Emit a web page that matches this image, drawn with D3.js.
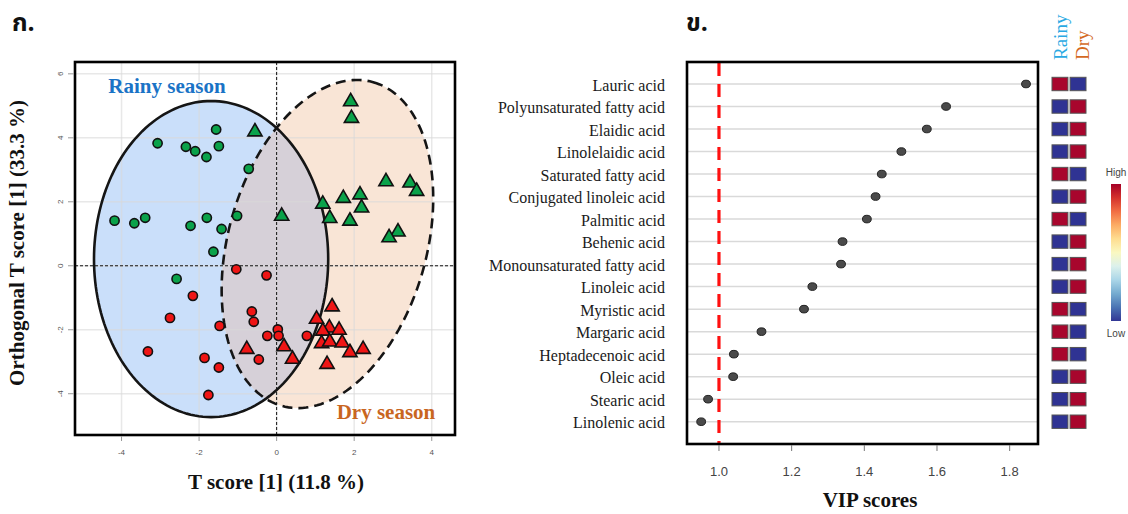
<!DOCTYPE html>
<html><head><meta charset="utf-8">
<script src="https://cdn.jsdelivr.net/npm/d3@7"></script>
<style>body{margin:0;background:#fff}svg{display:block}</style>
</head><body><svg id="c" width="1128" height="514"></svg>
<script>
// ---------- DATA: panel ก. (OPLS-DA score plot) ----------
const xTicksL = [-4, -2, 0, 2, 4];
const yTicksL = [-4, -2, 0, 2, 4, 6];
// circles = rainy-season samples, triangles = dry-season samples; colour = class
const greenCircles = [[-1.56,4.26],[-3.07,3.83],[-2.34,3.72],[-2.10,3.58],[-1.49,3.74],[-1.81,3.40],[-0.72,3.03],[-4.18,1.41],[-3.67,1.33],[-3.39,1.50],[-2.22,1.25],[-1.80,1.50],[-1.02,1.56],[-1.42,1.15],[-1.63,0.44],[-2.58,-0.41]];
const redCircles = [[-1.04,-0.11],[-0.26,-0.30],[-2.16,-0.94],[-2.75,-1.63],[-0.64,-1.43],[-0.59,-1.75],[-1.47,-1.88],[0.03,-1.99],[0.05,-2.19],[-0.24,-2.19],[0.78,-2.19],[-3.32,-2.68],[-1.86,-2.88],[-1.49,-3.18],[-0.46,-2.93],[-1.76,-4.04]];
const greenTriangles = [[1.91,5.13],[1.93,4.61],[-0.56,4.19],[2.82,2.63],[3.44,2.59],[3.61,2.33],[1.72,2.11],[2.15,2.22],[1.19,1.93],[2.19,1.81],[1.37,1.48],[1.89,1.40],[0.13,1.55],[3.13,1.06],[2.90,0.88]];
const redTriangles = [[1.43,-1.28],[1.03,-1.67],[1.36,-1.94],[1.61,-2.01],[1.19,-2.04],[1.16,-2.43],[1.37,-2.38],[1.69,-2.41],[1.89,-2.71],[2.23,-2.61],[-0.77,-2.61],[0.19,-2.53],[0.41,-2.92],[1.30,-3.08]];
// confidence ellipses: centre and two conjugate semi-diameters (data units)
const rainyEllipse = {c:[-1.69,0.21], u:[0,4.94], v:[3.02,0]};
const dryEllipse   = {c:[1.31,0.68], u:[1.18,5.06], v:[2.46,-0.84]};

// ---------- DATA: panel ข. (VIP scores) ----------
const acids = ["Lauric acid","Polyunsaturated fatty acid","Elaidic acid","Linolelaidic acid","Saturated fatty acid","Conjugated linoleic acid","Palmitic acid","Behenic acid","Monounsaturated fatty acid","Linoleic acid","Myristic acid","Margaric acid","Heptadecenoic acid","Oleic acid","Stearic acid","Linolenic acid"];
const vipScores = [1.845,1.625,1.572,1.502,1.448,1.431,1.407,1.340,1.336,1.257,1.234,1.117,1.041,1.039,0.970,0.951];
const seasons = ["Rainy","Dry"];
const rainyLevel = ["High","Low","Low","Low","High","Low","High","Low","Low","Low","High","High","High","Low","Low","Low"];
const xTicksR = [1.0,1.2,1.4,1.6,1.8];
const vipThreshold = 1.0;

// ---------- SETUP ----------
const svg = d3.select("#c");
svg.append("rect").attr("width",1128).attr("height",514).attr("fill","#fff");
const serif = "'Liberation Serif','Times New Roman',serif";
const sans = "'Liberation Sans',Arial,sans-serif";
const thai = "'Noto Sans Thai','Loma','Garuda','Tlwg Typo','Norasi',sans-serif";

// ---------- PANEL ก. ----------
const xL = d3.scaleLinear().domain([-5.2,4.6]).range([75,455]);
const yL = d3.scaleLinear().domain([-5.29,6.37]).range([435,62]);
const ellPts = e => d3.range(0,181).map(i => {const t=i/180*2*Math.PI;
  return [e.c[0]+e.u[0]*Math.cos(t)+e.v[0]*Math.sin(t), e.c[1]+e.u[1]*Math.cos(t)+e.v[1]*Math.sin(t)];});
const eLine = d3.line().x(d=>xL(d[0])).y(d=>yL(d[1])).curve(d3.curveLinearClosed);

svg.append("defs").append("clipPath").attr("id","clipRainy")
  .append("path").attr("d", eLine(ellPts(rainyEllipse)));

const gL = svg.append("g");
gL.append("path").attr("d", eLine(ellPts(rainyEllipse))).attr("fill","#cadffa");
gL.append("path").attr("d", eLine(ellPts(dryEllipse))).attr("fill","#f9e5d6");
gL.append("path").attr("d", eLine(ellPts(dryEllipse))).attr("fill","#d6d0d8").attr("clip-path","url(#clipRainy)");

// grid
gL.selectAll(".gx").data(xTicksL).join("line").attr("x1",d=>xL(d)).attr("x2",d=>xL(d))
  .attr("y1",yL.range()[0]).attr("y2",yL.range()[1]).attr("stroke","#d8d8d8").attr("stroke-opacity",0.6).attr("stroke-width",1.5);
gL.selectAll(".gy").data(yTicksL).join("line").attr("y1",d=>yL(d)).attr("y2",d=>yL(d))
  .attr("x1",xL.range()[0]).attr("x2",xL.range()[1]).attr("stroke","#d8d8d8").attr("stroke-opacity",0.6).attr("stroke-width",1.5);
// zero lines
gL.append("line").attr("x1",xL(0)).attr("x2",xL(0)).attr("y1",yL.range()[0]).attr("y2",yL.range()[1])
  .attr("stroke","#111").attr("stroke-width",1).attr("stroke-dasharray","3,2");
gL.append("line").attr("y1",yL(0)).attr("y2",yL(0)).attr("x1",xL.range()[0]).attr("x2",xL.range()[1])
  .attr("stroke","#111").attr("stroke-width",1).attr("stroke-dasharray","3,2");

// ellipse outlines
gL.append("path").attr("d", eLine(ellPts(rainyEllipse))).attr("fill","none").attr("stroke","#151515").attr("stroke-width",2.6);
gL.append("path").attr("d", eLine(ellPts(dryEllipse))).attr("fill","none").attr("stroke","#151515").attr("stroke-width",2.6).attr("stroke-dasharray","10,6");

// points
const tri = d3.symbol(d3.symbolTriangle, 88);
const drawCircles = (data, col) => gL.append("g").selectAll("circle").data(data).join("circle")
  .attr("cx",d=>xL(d[0])).attr("cy",d=>yL(d[1])).attr("r",4.6).attr("fill",col).attr("stroke","#111").attr("stroke-width",1.6);
const drawTris = (data, col) => gL.append("g").selectAll("path").data(data).join("path")
  .attr("d",tri).attr("transform",d=>`translate(${xL(d[0])},${yL(d[1])})`).attr("fill",col).attr("stroke","#111").attr("stroke-width",1.6);
drawCircles(greenCircles,"#0aa24a");
drawCircles(redCircles,"#ef1515");
drawTris(greenTriangles,"#0aa24a");
drawTris(redTriangles,"#ef1515");

// frame & axes
gL.append("rect").attr("x",xL.range()[0]).attr("y",yL.range()[1]).attr("width",xL.range()[1]-xL.range()[0])
  .attr("height",yL.range()[0]-yL.range()[1]).attr("fill","none").attr("stroke","#000").attr("stroke-width",2.6);
gL.selectAll(".tx").data(xTicksL).join("line").attr("x1",d=>xL(d)).attr("x2",d=>xL(d)).attr("y1",436).attr("y2",441).attr("stroke","#999");
gL.selectAll(".ty").data(yTicksL).join("line").attr("y1",d=>yL(d)).attr("y2",d=>yL(d)).attr("x1",68).attr("x2",74).attr("stroke","#999");
gL.selectAll(".lx").data(xTicksL).join("text").attr("x",d=>xL(d)).attr("y",455).attr("text-anchor","middle")
  .attr("font-family",sans).attr("font-size",8).attr("fill","#555").text(d=>d);
gL.selectAll(".ly").data(yTicksL).join("text").attr("transform",d=>`translate(63,${yL(d)}) rotate(-90)`).attr("text-anchor","middle")
  .attr("font-family",sans).attr("font-size",8).attr("fill","#555").text(d=>d);

gL.append("text").attr("x",167).attr("y",93).attr("text-anchor","middle").attr("font-family",serif).attr("font-weight","bold")
  .attr("font-size",21).attr("fill","#1a73c6").text("Rainy season");
gL.append("text").attr("x",386).attr("y",419).attr("text-anchor","middle").attr("font-family",serif).attr("font-weight","bold")
  .attr("font-size",21).attr("fill","#c9661f").text("Dry season");
gL.append("text").attr("x",276).attr("y",489).attr("text-anchor","middle").attr("font-family",serif).attr("font-weight","bold")
  .attr("font-size",21).attr("fill","#111").text("T score [1] (11.8 %)");
gL.append("text").attr("transform","translate(24,243) rotate(-90)").attr("text-anchor","middle").attr("font-family",serif).attr("font-weight","bold")
  .attr("font-size",21).attr("fill","#111").text("Orthogonal T score [1] (33.3 %)");
svg.append("text").attr("x",12).attr("y",31).attr("font-family",thai).attr("font-weight","bold").attr("font-size",25).attr("fill","#111").text("ก.");

// ---------- PANEL ข. ----------
const xR = d3.scaleLinear().domain([0.912,1.878]).range([687,1038]);
const yR = d3.scalePoint().domain(acids).range([84,421.7]);
const gR = svg.append("g");
gR.selectAll(".row").data(acids).join("line").attr("x1",xR.range()[0]).attr("x2",xR.range()[1])
  .attr("y1",d=>yR(d)).attr("y2",d=>yR(d)).attr("stroke","#d9d9d9").attr("stroke-width",1.5);
gR.append("line").attr("x1",xR(vipThreshold)).attr("x2",xR(vipThreshold)).attr("y1",63).attr("y2",443)
  .attr("stroke","#ff1010").attr("stroke-width",3.2).attr("stroke-dasharray","13,8");
gR.selectAll(".dot").data(acids).join("ellipse").attr("cx",(d,i)=>xR(vipScores[i])).attr("cy",d=>yR(d))
  .attr("rx",4.4).attr("ry",3.8).attr("fill","#4a4a4a").attr("stroke","#222").attr("stroke-width",1);
gR.append("rect").attr("x",687).attr("y",62).attr("width",351).attr("height",382).attr("fill","none").attr("stroke","#000").attr("stroke-width",2.6);
gR.selectAll(".lab").data(acids).join("text").attr("x",665).attr("y",d=>yR(d)+6.5).attr("text-anchor","end")
  .attr("font-family",serif).attr("font-size",16).attr("fill","#1a1a1a").text(d=>d);
gR.selectAll(".tk").data(xTicksR).join("line").attr("x1",d=>xR(d)).attr("x2",d=>xR(d)).attr("y1",445).attr("y2",451).attr("stroke","#777");
gR.selectAll(".tl").data(xTicksR).join("text").attr("x",d=>xR(d)).attr("y",476).attr("text-anchor","middle")
  .attr("font-family",sans).attr("font-size",13).attr("fill","#444").text(d=>d.toFixed(1));
gR.append("text").attr("x",870).attr("y",507).attr("text-anchor","middle").attr("font-family",serif).attr("font-weight","bold")
  .attr("font-size",21).attr("fill","#111").text("VIP scores");
svg.append("text").attr("x",686).attr("y",31).attr("font-family",thai).attr("font-weight","bold").attr("font-size",25).attr("fill","#111").text("ข.");

// heat map columns
const xH = d3.scaleBand().domain(seasons).range([1052,1086]).paddingInner(0.12);
const heatColor = {High:"#a8062d", Low:"#2f3393"};
const cells = [];
acids.forEach((a,i)=>{ cells.push({acid:a, season:"Rainy", level:rainyLevel[i]});
  cells.push({acid:a, season:"Dry", level:rainyLevel[i]==="High"?"Low":"High"}); });
gR.selectAll(".cell").data(cells).join("rect").attr("x",d=>xH(d.season)).attr("y",d=>yR(d.acid)-6.7)
  .attr("width",xH.bandwidth()).attr("height",13.4).attr("fill",d=>heatColor[d.level]).attr("stroke","#555").attr("stroke-width",1);
gR.append("text").attr("transform",`translate(${xH("Rainy")+xH.bandwidth()/2+7},60) rotate(-90)`).attr("font-family",serif)
  .attr("font-size",19).attr("fill","#2aa9e3").text("Rainy");
gR.append("text").attr("transform",`translate(${xH("Dry")+xH.bandwidth()/2+11},60) rotate(-90)`).attr("font-family",serif)
  .attr("font-size",19).attr("fill","#d4691f").text("Dry");

// colour legend
const grad = svg.select("defs").append("linearGradient").attr("id","hl").attr("x1",0).attr("x2",0).attr("y1",0).attr("y2",1);
d3.range(0,11).forEach(i=>grad.append("stop").attr("offset",i/10).attr("stop-color",d3.interpolateRdYlBu(i/10)));
svg.append("rect").attr("x",1111).attr("y",184).attr("width",10).attr("height",137).attr("fill","url(#hl)");
svg.append("text").attr("x",1116).attr("y",176).attr("text-anchor","middle").attr("font-family",sans).attr("font-size",10).attr("fill","#444").text("High");
svg.append("text").attr("x",1116).attr("y",337).attr("text-anchor","middle").attr("font-family",sans).attr("font-size",10).attr("fill","#444").text("Low");
</script></body></html>
